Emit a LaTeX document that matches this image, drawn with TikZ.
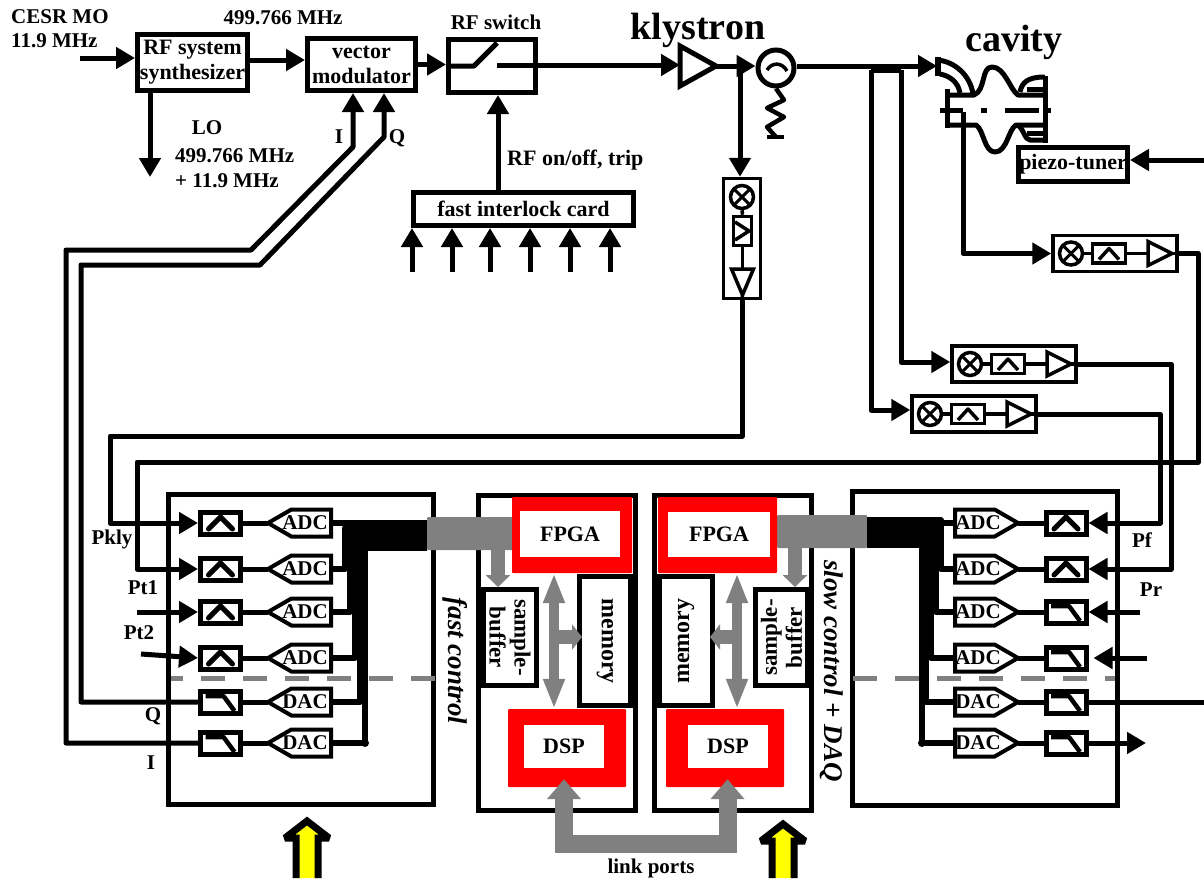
\documentclass[tikz,border=0pt]{standalone}
\usepackage{fontspec}
\setmainfont{Liberation Serif}
\usetikzlibrary{shapes.geometric, shapes.symbols, arrows.meta, calc}
\definecolor{mybus}{RGB}{128,128,128}
\definecolor{myred}{RGB}{255,0,0}
\definecolor{myyellow}{RGB}{255,255,0}
\tikzset{
  txt/.style={inner sep=0pt, font=\fontsize{21}{25}\selectfont\bfseries, align=center},
  bigtxt/.style={inner sep=0pt, font=\fontsize{38}{40}\selectfont\bfseries},
  sidetxt/.style={inner sep=0pt, font=\fontsize{27}{29}\selectfont\bfseries\itshape},
  boxnode/.style={rectangle, draw, line width=5pt, fill=white, inner sep=0pt,
    font=\fontsize{22}{25}\selectfont\bfseries, align=center},
  cardbox/.style={rectangle, draw, line width=5pt, inner sep=0pt},
  redbox/.style={rectangle, fill=myred, rounded corners=1pt, inner sep=0pt},
  inbox/.style={rectangle, fill=white, inner sep=0pt, font=\fontsize{22}{25}\selectfont\bfseries},
  busnode/.style={rectangle, fill=mybus, rounded corners=1pt, inner sep=0pt},
  sigline/.style={line width=5pt, line join=round},
  sigarrow/.style={sigline, -{Triangle[length=19pt,width=21pt]}},
  busline/.style={line width=5.6pt, line join=round},
  thinline/.style={line width=3.5pt, line join=round},
  modbox/.style={rectangle, draw, line width=3.5pt, fill=white, minimum width=124pt, minimum height=36pt},
  lnabox/.style={rectangle, draw, line width=3.5pt, fill=white, minimum width=33pt, minimum height=19pt},
  ampnode/.style={isosceles triangle, isosceles triangle stretches, draw, fill=white,
    line width=3.5pt, inner sep=0pt, outer sep=0pt},
  mixnode/.style={circle, draw, fill=white, line width=3.5pt, minimum size=23pt, inner sep=0pt,
    path picture={
      \draw[line width=3pt] (path picture bounding box.north west) -- (path picture bounding box.south east);
      \draw[line width=3pt] (path picture bounding box.north east) -- (path picture bounding box.south west);}},
  bandflt/.style={rectangle, draw, line width=5pt, fill=white, minimum width=40pt, minimum height=22pt,
    path picture={
      \draw[line width=5pt, line cap=round, line join=round]
        ([shift={(-12pt,-6pt)}]path picture bounding box.center) --
        ([shift={(0pt,6pt)}]path picture bounding box.center) --
        ([shift={(12pt,-6pt)}]path picture bounding box.center);}},
  lowflt/.style={rectangle, draw, line width=5pt, fill=white, minimum width=40pt, minimum height=22pt,
    path picture={
      \draw[line width=4.5pt, line join=round]
        ([shift={(-15pt,6pt)}]path picture bounding box.center) --
        ([shift={(3pt,6pt)}]path picture bounding box.center) --
        ([shift={(14pt,-9pt)}]path picture bounding box.center);}},
  convleft/.style={signal, signal to=west, signal from=nowhere, signal pointer angle=60, draw, fill=white,
    line width=4pt, minimum width=63pt, minimum height=27pt, inner sep=0pt, outer sep=0pt},
  convright/.style={signal, signal to=east, signal from=nowhere, signal pointer angle=60, draw, fill=white,
    line width=4pt, minimum width=63pt, minimum height=27pt, inner sep=0pt, outer sep=0pt},
  graydash/.style={color=mybus, line width=5pt, dash pattern=on 24pt off 18pt, dash phase=12pt},
  grayarrow/.style={color=mybus, line width=14pt, -{Triangle[length=12pt,width=24pt]}},
  graydouble/.style={color=mybus, line width=10pt, {Triangle[length=30pt,width=20pt]}-{Triangle[length=30pt,width=20pt]}},
  graytee/.style={color=mybus, line width=14pt, -{Triangle[length=10pt,width=25pt]}},
  linkarrow/.style={color=mybus, line width=18pt, {Triangle[length=20pt,width=33pt]}-{Triangle[length=20pt,width=33pt]}},
  yelarrow/.style={draw=black, fill=myyellow, line width=7pt, line join=miter, miter limit=2},
  cavline/.style={line width=5pt, line join=round}
}

\begin{document}
\begin{tikzpicture}[x=1pt, y=-1pt]
  \useasboundingbox (0,0) rectangle (1204,878);

  % Cards
  \node[cardbox, minimum width=265pt, minimum height=310pt] (cardL) at (300.5,649.5) {};
  \node[cardbox, minimum width=157pt, minimum height=315pt] (cardA) at (557,653) {};
  \node[cardbox, minimum width=157pt, minimum height=315pt] (cardB) at (733,653) {};
  \node[cardbox, minimum width=265pt, minimum height=314pt] (cardR) at (985,648.5) {};

  % Top row
  \node[boxnode, minimum width=110pt, minimum height=56pt] (rfsynth) at (192.5,62.5) {RF system\\synthesizer};
  \node[boxnode, minimum width=108pt, minimum height=52pt] (vecmod) at (361.5,64.5) {vector\\modulator};
  \node[boxnode, minimum width=87pt, minimum height=53pt] (rfswitch) at (492,66) {};
  \node[boxnode, minimum width=220pt, minimum height=33pt] (interlock) at (523.5,209) {fast interlock card};
  \node[boxnode, minimum width=109pt, minimum height=34pt] (piezo) at (1073,164.5) {piezo-tuner};

  \node[txt, anchor=west] (lblcesr) at (11,17) {CESR MO};
  \node[txt, anchor=west] (lblmo) at (11,41) {11.9 MHz};
  \node[txt] (lblvm) at (283,18) {499.766 MHz};
  \node[txt] (lblsw) at (496,22) {RF switch};
  \node[txt] (lbllo) at (207,128) {LO};
  \node[txt, anchor=west] (lbllof) at (175,156) {499.766 MHz};
  \node[txt, anchor=west] (lbllog) at (175,181) {+ 11.9 MHz};
  \node[txt] (lbli) at (339,137) {I};
  \node[txt] (lblq) at (397,138) {Q};
  \node[txt, anchor=west, font=\fontsize{22}{25}\selectfont\bfseries] (lbltrip) at (507,160) {RF on/off, trip};
  \node[bigtxt] (lblkly) at (698,30) {klystron};
  \node[bigtxt] (lblcav) at (1014,42) {cavity};

  \coordinate (cesrin) at (80,58);
  \coordinate (lout) at (150,177);
  \draw[sigarrow] (cesrin) -- (cesrin -| rfsynth.west);
  \draw[sigarrow] ([yshift=2.5pt]rfsynth.east) -- ([yshift=4.5pt]vecmod.west);
  \draw[sigarrow] (vecmod.east) -- (vecmod.east -| rfswitch.west);
  \draw[sigarrow] (lout |- rfsynth.south) -- (lout);
  \draw[sigarrow] (interlock.north -| 498,0) -- (rfswitch.south -| 498,0);

  % Switch blade
  \coordinate (swblade) at (474,66);
  \coordinate (swtip) at (497,43);
  \coordinate (swcontact) at (497,65);
  \draw[sigline] (rfswitch.west) -- (swblade) -- (swtip);

  % Interlock inputs
  \foreach \n/\x in {1/412, 2/452, 3/490, 4/530, 5/570, 6/610} {
    \coordinate (trip\n) at (\x,272);
    \draw[sigarrow] (trip\n) -- (trip\n |- interlock.south);
  }

  % Klystron and circulator
  \node[ampnode, line width=5pt, minimum width=40pt, minimum height=36pt, anchor=lower side] (klyamp) at (680,66) {};
  \node[circle, draw, line width=5pt, fill=white, minimum size=36pt, inner sep=0pt] (circ) at (776,68) {};
  \draw[thinline] (767,70) .. controls (772,62) and (782,62) .. (787,71);
  \draw[sigarrow] (swcontact) -- (swcontact -| klyamp.lower side);
  \draw[sigarrow] (klyamp.apex) -- (klyamp.apex -| circ.west);
  \draw[sigline, line width=4.5pt] (circ.south) -- (784,100) -- (767,108) -- (784,117) -- (767,127) -- (776,137);
  \draw[sigline, line width=4.5pt] (767,137) -- (784,137);

  % Vertical pick-off
  \coordinate (klytap) at (740,66);
  \node[modbox, minimum width=37pt, minimum height=120pt] (modkly) at (742,238.5) {};
  \node[mixnode] (mixkly) at (742,197) {};
  \node[lnabox, minimum width=18pt, minimum height=29pt] (lnakly) at (742.5,231) {};
  \draw[thinline] (735,222) -- (749,231) -- (735,240);
  \node[ampnode, shape border rotate=270, minimum width=22pt, minimum height=26pt, anchor=lower side] (trikly) at (742.5,269) {};
  \draw[thinline] (mixkly.south) -- (lnakly.north);
  \draw[thinline] (lnakly.south) -- (trikly.lower side);
  \draw[thinline] (trikly.apex) -- (modkly.south);
  \draw[sigarrow] (klytap) -- (klytap |- modkly.north);

  % Forward line to cavity
  \coordinate (cavin) at (937,66);
  \coordinate (tapF) at (871,70);
  \coordinate (tapR) at (901,70);
  \draw[sigarrow] (circ.east |- cavin) -- (cavin);
  \draw[sigline] (tapF) -- (tapR);

  % Cavity
  \draw[cavline, line width=5.5pt] (938,57) -- (938,76);
  \draw[cavline] (938,60) .. controls (955,62) and (970,75) .. (973,94);
  \draw[cavline] (940,74) .. controls (950,76) and (958,82) .. (960,93);
  \draw[cavline] (947,89) -- (947,128);
  \draw[cavline] (947,95) -- (974,95) .. controls (986,90) and (981,67) .. (992,67)
    .. controls (1005,67) and (1010,90) .. (1018,95) -- (1043,95);
  \draw[cavline] (947,125) -- (976,125) .. controls (984,130) and (984,152) .. (995,152)
    .. controls (1007,152) and (1008,130) .. (1016,125) -- (1043,125);
  \draw[cavline] (1045,76) -- (1045,143);
  \draw[cavline] (1020,92) .. controls (1022,82) and (1028,77) .. (1045,77);
  \draw[cavline] (1027,89) -- (1045,89);
  \draw[cavline] (1018,125) .. controls (1024,130) and (1025,140) .. (1030,140) -- (1045,140);
  \draw[cavline] (1027,133) -- (1045,133);
  \draw[line width=5pt] (940,110) -- (963,110) (981,110) -- (987,110) (1005,110) -- (1039,110) (1045,110) -- (1051,110);
  \coordinate (cavpick) at (963,112);

  % Down-converter modules
  \foreach \m/\x/\y in {pt/1053/253.5, pf/952/364, pr/912/414} {
    \node[modbox] (mod\m) at (\x+62,\y) {};
    \node[mixnode] (mix\m) at (\x+18,\y) {};
    \node[lnabox] (lna\m) at (\x+56,\y) {};
    \draw[thinline] (\x+46,\y+6) -- (\x+56,\y-5) -- (\x+66,\y+6);
    \node[ampnode, minimum width=24pt, minimum height=24pt, anchor=lower side] (tri\m) at (\x+95,\y) {};
    \draw[thinline] (mix\m.east) -- (lna\m.west);
    \draw[thinline] (lna\m.east) -- (tri\m.lower side);
    \draw[thinline] (tri\m.apex) -- (mod\m.east);
  }
  \draw[sigarrow] (cavpick) |- (modpt.west);
  \draw[sigline] (tapR) |- ([xshift=-20pt,yshift=2pt]modpf.west);
  \draw[sigarrow] ([xshift=-20pt,yshift=2pt]modpf.west) -- ([yshift=2pt]modpf.west);
  \draw[sigline] (tapF) |- ([xshift=-20pt,yshift=4pt]modpr.west);
  \draw[sigarrow] ([xshift=-20pt,yshift=4pt]modpr.west) -- ([yshift=4pt]modpr.west);

  % Grey buses
  \node[busnode, minimum width=86pt, minimum height=33pt] (greyL) at (470,533.5) {};
  \node[busnode, minimum width=90pt, minimum height=33pt] (greyR) at (822,531.5) {};

  % Left card rows
  \foreach \i/\y/\t/\f/\bx/\by in {1/523/ADC/bandflt/345/523, 2/569/ADC/bandflt/345/528, 3/612/ADC/bandflt/350/533,
      4/658/ADC/bandflt/355/538, 5/702/DAC/lowflt/360/543, 6/743/DAC/lowflt/365/548} {
    \node[\f] (fltL\i) at (220.5,\y) {};
    \node[convleft, anchor=east] (convL\i) at (331,\y) {};
    \node[txt] (txtL\i) at (305,\y) {\t};
    \draw[sigline] (fltL\i.east) -- (convL\i.west);
    \draw[busline] (convL\i.east) -| (\bx,\by) -- (greyL.west |- \bx,\by);
  }
  \fill (365,743) circle (4);

  % Right card rows
  \foreach \i/\y/\t/\f/\bx/\by in {1/523/ADC/bandflt/941/520, 2/569/ADC/bandflt/941/525, 3/612/ADC/lowflt/936/530,
      4/658/ADC/lowflt/931/535, 5/702/DAC/lowflt/926/540, 6/743/DAC/lowflt/922/545} {
    \node[\f] (fltR\i) at (1066,\y) {};
    \node[convright, anchor=west] (convR\i) at (955,\y) {};
    \node[txt] (txtR\i) at (978,\y) {\t};
    \draw[sigline] (convR\i.east) -- (fltR\i.west);
    \draw[busline] (convR\i.west) -| (\bx,\by) -- (greyR.east |- \bx,\by);
  }
  \fill (922,743) circle (4);

  % Measured signals into the cards
  \coordinate (pktop) at (110,436);
  \coordinate (ptright) at (1198,462);
  \coordinate (ptleft) at (137,462);
  \coordinate (pfdown) at (1171,569);
  \coordinate (prdown) at (1160,523);
  \draw[sigarrow] (modkly.south) |- (pktop) |- (fltL1.west);
  \draw[sigarrow] (modpt.east) -| (ptright) -- (ptleft) |- (fltL2.west);
  \draw[sigarrow] (modpf.east) -| (pfdown) -- (fltR2.east);
  \draw[sigarrow] (modpr.east) -| (prdown) -- (fltR1.east);
  \coordinate (ptone) at (137,612);
  \coordinate (pttwo) at (141,654);
  \draw[sigarrow] (ptone) -- (fltL3.west);
  \draw[sigarrow] (pttwo) -- (fltL4.west);
  \coordinate (prone) at (1140,612);
  \coordinate (prtwo) at (1147,658);
  \coordinate (dacout) at (1204,702);
  \coordinate (dacend) at (1146,743);
  \draw[sigarrow] (prone) -- (fltR3.east);
  \draw[sigarrow] (prtwo) -- ([xshift=5pt]fltR4.east);
  \draw[sigline] (fltR5.east) -- (dacout);
  \draw[sigarrow] (fltR6.east) -- (dacend);

  % I and Q to the vector modulator
  \coordinate (qleft) at (81,265);
  \coordinate (qdiag) at (260,265);
  \coordinate (qtop) at (384,137);
  \coordinate (ileft) at (66,250);
  \coordinate (idiag) at (251,250);
  \coordinate (itop) at (353,147);
  \draw[sigarrow] (fltL5.west) -| (qleft) -- (qdiag) -- (qtop) -- ([xshift=22.5pt]vecmod.south);
  \draw[sigarrow] (fltL6.west) -| (ileft) -- (idiag) -- (itop) -- ([xshift=-8.5pt]vecmod.south);

  \coordinate (pzin) at (1204,160);
  \draw[sigarrow] (pzin) -- (pzin -| piezo.east);

  % Dashed separators
  \draw[graydash] (171,678) -- (435,678);
  \draw[graydash, dash phase=0pt] (853,678) -- (1115,678);

  \node[txt] (lblpkly) at (112,539) {Pkly};
  \node[txt] (lblpt1) at (143,588) {Pt1};
  \node[txt] (lblpt2) at (139,633) {Pt2};
  \node[txt] (lblqq) at (153,716) {Q};
  \node[txt] (lblii) at (151,763) {I};
  \node[txt] (lblpf) at (1142,540) {Pf};
  \node[txt] (lblpr) at (1151,590) {Pr};
  \node[sidetxt, rotate=-90] (lblfast) at (455,661) {fast control};
  \node[sidetxt, rotate=-90] (lblslow) at (832,671) {slow control + DAQ};

  % Processors
  \node[redbox, minimum width=120pt, minimum height=76pt] (fpgaL) at (572,535) {};
  \node[inbox, minimum width=100pt, minimum height=46pt] (fpgaLin) at (570,534) {FPGA};
  \node[redbox, minimum width=119pt, minimum height=76pt] (fpgaR) at (717.5,535) {};
  \node[inbox, minimum width=102pt, minimum height=45pt] (fpgaRin) at (719,534.5) {FPGA};
  \node[redbox, minimum width=118pt, minimum height=78pt] (dspL) at (567,748) {};
  \node[inbox, minimum width=80pt, minimum height=43pt] (dspLin) at (564,746.5) {DSP};
  \node[redbox, minimum width=118pt, minimum height=78pt] (dspR) at (725,748) {};
  \node[inbox, minimum width=80pt, minimum height=43pt] (dspRin) at (728,746.5) {DSP};

  \node[boxnode, rotate=-90, minimum width=96pt, minimum height=53pt, font=\fontsize{23}{25}\selectfont\bfseries] (sampL) at (510,637.5) {sample-\\buffer};
  \node[boxnode, rotate=90, minimum width=96pt, minimum height=52pt, font=\fontsize{23}{25}\selectfont\bfseries] (sampR) at (781.5,637.5) {sample-\\buffer};
  \node[boxnode, rotate=-90, minimum width=129pt, minimum height=51pt, font=\fontsize{24}{26}\selectfont\bfseries] (memL) at (605,641) {memory};
  \node[boxnode, rotate=90, minimum width=129pt, minimum height=53pt, font=\fontsize{24}{26}\selectfont\bfseries] (memR) at (686,641) {memory};

  % Internal buses
  \coordinate (tapL) at (554,637);
  \coordinate (tapM) at (737,637);
  \coordinate (linkmid) at (645,844);
  \draw[grayarrow] ([xshift=28pt]greyL.south) -- ([xshift=-12pt]sampL.west);
  \draw[grayarrow] ([xshift=-27pt]greyR.south) -- ([xshift=13.5pt]sampR.east);
  \draw[graydouble] ([xshift=-18pt]fpgaL.south) -- ([xshift=-13pt]dspL.north);
  \draw[graydouble] ([xshift=19.5pt]fpgaR.south) -- ([xshift=12pt]dspR.north);
  \draw[graytee] (tapL) -- ([xshift=5pt]tapL -| memL.south);
  \draw[graytee] (tapM) -- ([xshift=-5pt]tapM -| memR.south);
  \draw[linkarrow] ([shift={(-3pt,8pt)}]dspL.south) |- (linkmid) -| ([shift={(2.5pt,8pt)}]dspR.south);
  \node[txt] (lbllink) at (651,868) {link ports};

  % Supply arrows
  \foreach \n/\cx/\cy in {1/307/821, 2/783/824}
    \draw[yelarrow] (\cx-11,878) -- (\cx-11,\cy+17) -- (\cx-22,\cy+17) -- (\cx,\cy)
      -- (\cx+22,\cy+17) -- (\cx+11,\cy+17) -- (\cx+11,878);
\end{tikzpicture}
\end{document}
